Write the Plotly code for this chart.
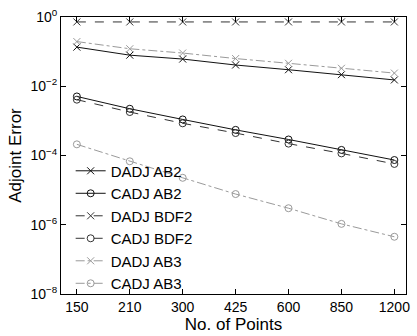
import plotly.graph_objects as go

points = ["150", "210", "300", "425", "600", "850", "1200"]

dadj_ab2 = [0.135, 0.079, 0.061, 0.041, 0.030, 0.0216, 0.0152]
cadj_ab2 = [5.07e-3, 2.24e-3, 1.10e-3, 5.5e-4, 2.9e-4, 1.45e-4, 7.4e-5]
dadj_bdf2 = [0.72, 0.72, 0.72, 0.72, 0.72, 0.72, 0.72]
cadj_bdf2 = [4.1e-3, 1.8e-3, 8.5e-4, 4.45e-4, 2.2e-4, 1.15e-4, 5.7e-5]
dadj_ab3 = [0.195, 0.121, 0.091, 0.063, 0.046, 0.033, 0.024]
cadj_ab3 = [2.1e-4, 6.8e-5, 2.27e-5, 7.7e-6, 3.0e-6, 1.06e-6, 4.5e-7]

ytick_vals = [1e0, 1e-2, 1e-4, 1e-6, 1e-8]
ytick_text = ["10<sup>0</sup>", "10<sup>−2</sup>", "10<sup>−4</sup>", "10<sup>−6</sup>", "10<sup>−8</sup>"]

series = [
    ("DADJ AB2", dadj_ab2, "#111111", "solid", "x-thin-open"),
    ("CADJ AB2", cadj_ab2, "#111111", "solid", "circle-open"),
    ("DADJ BDF2", dadj_bdf2, "#333333", "dash", "x-thin-open"),
    ("CADJ BDF2", cadj_bdf2, "#333333", "dash", "circle-open"),
    ("DADJ AB3", dadj_ab3, "#9a9a9a", "dashdot", "x-thin-open"),
    ("CADJ AB3", cadj_ab3, "#9a9a9a", "dashdot", "circle-open"),
]

fig = go.Figure()
for name, vals, color, dash, sym in series:
    fig.add_trace(go.Scatter(
        x=points, y=vals, name=name, mode="lines+markers",
        line=dict(color=color, width=1, dash=dash),
        marker=dict(symbol=sym, size=7, color=color, line=dict(color=color, width=1)),
    ))

fig.update_layout(
    width=417, height=336,
    margin=dict(l=61, r=7, t=14, b=37),
    paper_bgcolor="white", plot_bgcolor="white",
    font=dict(family="Liberation Sans, Arial, sans-serif", size=14, color="black"),
    showlegend=True,
    legend=dict(x=0.028, y=-0.02, xanchor="left", yanchor="bottom",
                bgcolor="rgba(0,0,0,0)", font=dict(size=15),
                tracegroupgap=0, itemwidth=30),
)
fig.update_xaxes(
    type="category", range=[-0.3, 6.22],
    showline=True, linecolor="black", linewidth=1, mirror="ticks",
    ticks="inside", ticklen=5, tickcolor="black",
    showgrid=False, zeroline=False,
    title=dict(text="No. of Points", font=dict(size=17), standoff=2),
    tickfont=dict(size=14),
)
fig.update_yaxes(
    type="log", range=[-8, 0],
    tickvals=ytick_vals, ticktext=ytick_text,
    showline=True, linecolor="black", linewidth=1, mirror="ticks",
    ticks="inside", ticklen=5, tickcolor="black",
    showgrid=False, zeroline=False,
    title=dict(text="Adjoint Error", font=dict(size=17), standoff=4),
    tickfont=dict(size=14),
)

fig.write_html("out.html")
